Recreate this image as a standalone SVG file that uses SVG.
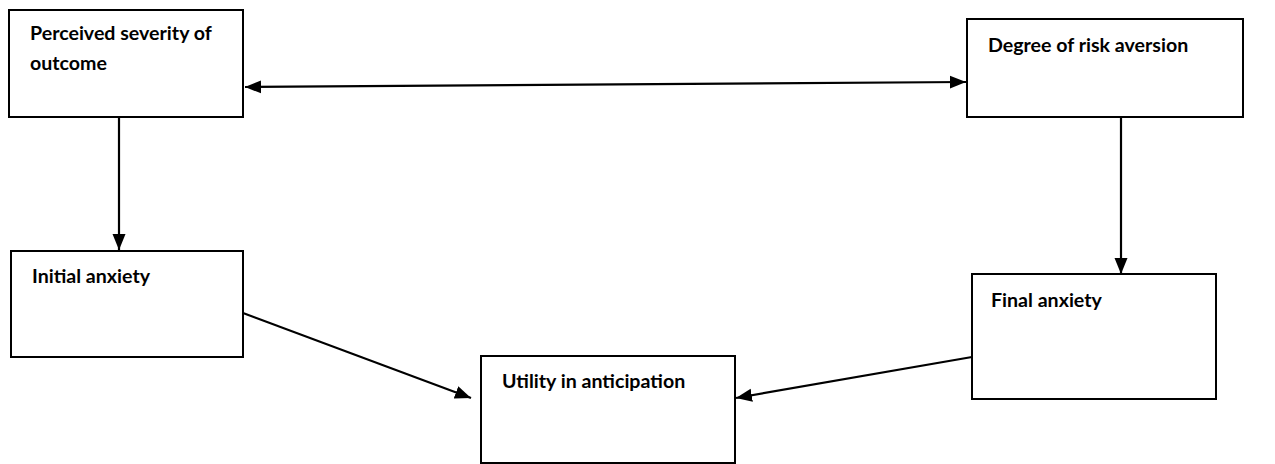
<svg xmlns="http://www.w3.org/2000/svg" width="1275" height="464" viewBox="0 0 1275 464">
<defs>
<marker id="ah" markerWidth="17" markerHeight="14" refX="16" refY="7" orient="auto-start-reverse" markerUnits="userSpaceOnUse">
<path d="M0,0.5 L16,7 L0,13.5 Z" fill="#000"/>
</marker>
<style>
.box{fill:#fff;stroke:#000;stroke-width:2}
.lbl{font-family:Lato,"Liberation Sans",sans-serif;font-weight:bold;font-size:19.6px;fill:#000}
.c{stroke:#000;stroke-width:2.2;fill:none}
</style>
</defs>
<rect width="1275" height="464" fill="#fff"/>
<g id="n1"><rect class="box" x="9" y="10" width="234" height="107"/><text class="lbl" x="30" y="40">Perceived severity of</text><text class="lbl" x="30" y="70">outcome</text></g>
<g id="n2"><rect class="box" x="967" y="19" width="276" height="98"/><text class="lbl" x="988" y="52">Degree of risk aversion</text></g>
<g id="n3"><rect class="box" x="11" y="251" width="232" height="106"/><text class="lbl" x="32" y="283">Initial anxiety</text></g>
<g id="n4"><rect class="box" x="972" y="274" width="244" height="125"/><text class="lbl" x="991" y="307">Final anxiety</text></g>
<g id="n5"><rect class="box" x="481" y="356" width="254" height="107"/><text class="lbl" x="502" y="388">Utility in anticipation</text></g>
<g id="connectors">
<line class="c" x1="245" y1="87" x2="966" y2="82" marker-start="url(#ah)" marker-end="url(#ah)"/>
<line class="c" x1="119" y1="117" x2="119" y2="250" marker-end="url(#ah)"/>
<line class="c" x1="1121" y1="117" x2="1121" y2="274" marker-end="url(#ah)"/>
<line class="c" x1="243" y1="313" x2="471" y2="398" marker-end="url(#ah)"/>
<line class="c" x1="972" y1="357" x2="736" y2="398" marker-end="url(#ah)"/>
</g>
</svg>
